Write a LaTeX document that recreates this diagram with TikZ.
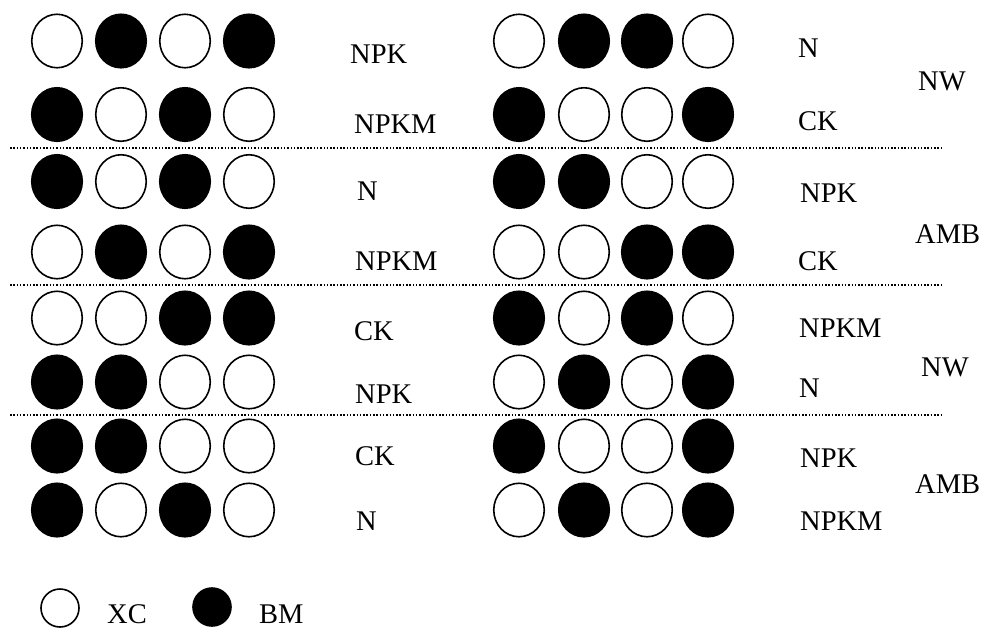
\documentclass[tikz,border=0pt]{standalone}
\usepackage{fontspec}
\setmainfont{Liberation Serif}
\usetikzlibrary{shapes.geometric}
\begin{document}
\begin{tikzpicture}[x=1pt,y=-1pt,
  dotc/.style={ellipse,draw=black,line width=1.6pt,minimum width=50.5pt,minimum height=53.5pt,inner sep=0pt},
  legc/.style={circle,draw=black,line width=1.6pt,minimum size=38pt,inner sep=0pt},
  lab/.style={anchor=base west,inner sep=0pt,font=\fontsize{28.5}{30}\selectfont},
  sepline/.style={line width=1.8pt,dash pattern=on 1.5pt off 1.8pt}]
\useasboundingbox (0,0) rectangle (983,630);
% rows of circles
\foreach \r/\y/\a/\b/\c/\d/\e/\f/\g/\h in {
  1/41/white/black/white/black/white/black/black/white,
  2/114.5/black/white/black/white/black/white/white/black,
  3/181.5/black/white/black/white/black/black/white/white,
  4/252/white/black/white/black/white/white/black/black,
  5/318/white/white/black/black/black/white/black/white,
  6/382/black/black/white/white/white/black/white/black,
  7/446/black/black/white/white/black/white/white/black,
  8/510/black/white/black/white/white/black/white/black}{
  \node[dotc,fill=\a] (L\r-1) at (57,\y) {};
  \node[dotc,fill=\b] (L\r-2) at (121,\y) {};
  \node[dotc,fill=\c] (L\r-3) at (185,\y) {};
  \node[dotc,fill=\d] (L\r-4) at (249,\y) {};
  \node[dotc,fill=\e] (R\r-1) at (519,\y) {};
  \node[dotc,fill=\f] (R\r-2) at (584,\y) {};
  \node[dotc,fill=\g] (R\r-3) at (647,\y) {};
  \node[dotc,fill=\h] (R\r-4) at (708,\y) {};
}
% left labels
\node[lab] (tl1) at (350,63) {NPK};
\node[lab] (tl2) at (354,133) {NPKM};
\node[lab] (tl3) at (357,200) {N};
\node[lab] (tl4) at (355,270) {NPKM};
\node[lab] (tl5) at (354,340) {CK};
\node[lab] (tl6) at (355,403) {NPK};
\node[lab] (tl7) at (355,465) {CK};
\node[lab] (tl8) at (356,530) {N};
% right labels
\node[lab] (tr1) at (798,57) {N};
\node[lab] (tr2) at (798,130) {CK};
\node[lab] (tr3) at (800,202) {NPK};
\node[lab] (tr4) at (798,270) {CK};
\node[lab] (tr5) at (799,337) {NPKM};
\node[lab] (tr6) at (799,397) {N};
\node[lab] (tr7) at (800,467) {NPK};
\node[lab] (tr8) at (800,530) {NPKM};
% group labels
\node[lab] (g1) at (918,90) {NW};
\node[lab] (g2) at (915,243) {AMB};
\node[lab] (g3) at (921,376) {NW};
\node[lab] (g4) at (915,493) {AMB};
% separators
\coordinate (s1a) at (10,148); \coordinate (s1b) at (943,148);
\coordinate (s2a) at (10,285); \coordinate (s2b) at (943,285);
\coordinate (s3a) at (10,415); \coordinate (s3b) at (943,415);
\draw[sepline] (s1a) -- (s1b);
\draw[sepline] (s2a) -- (s2b);
\draw[sepline] (s3a) -- (s3b);
% legend
\node[legc,fill=white] (kxc) at (60,608) {};
\node[lab] (txc) at (107,623) {XC};
\node[legc,fill=black] (kbm) at (212,607) {};
\node[lab] (tbm) at (259,623) {BM};
\end{tikzpicture}
\end{document}
